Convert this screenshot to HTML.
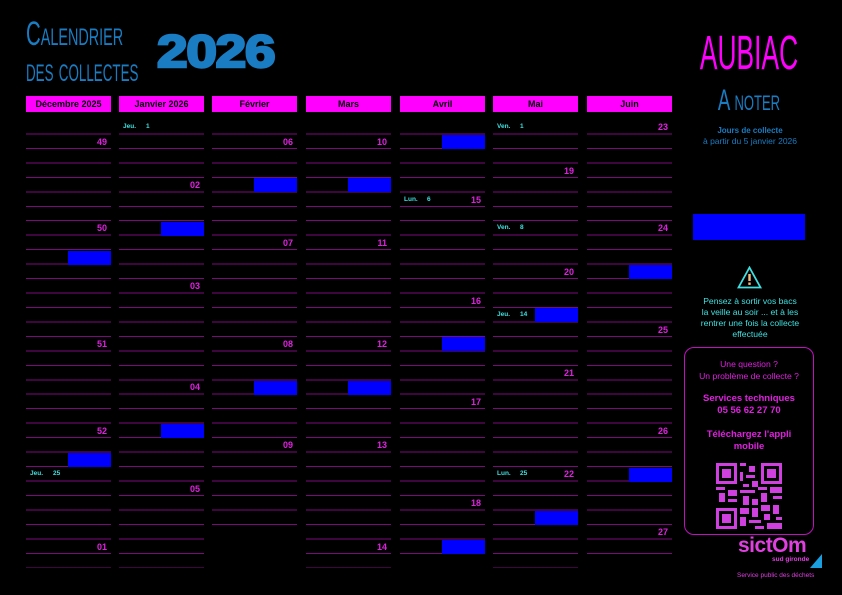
<!DOCTYPE html>
<html><head><meta charset="utf-8"><style>
*{margin:0;padding:0;box-sizing:border-box}
body{width:842px;height:595px;background:#000;position:relative;overflow:hidden;font-family:"Liberation Sans","DejaVu Sans",sans-serif}
.a{position:absolute}
.hd{position:absolute;top:96px;height:16px;width:85px;background:#ff00ff;color:#000;font-weight:bold;font-size:9px;text-align:center;line-height:16px}
.col{position:absolute;top:120px;width:85px;background:repeating-linear-gradient(#000 0,#000 13.46px,#7d0a7d 13.46px,#7d0a7d 14.46px)}
.wk{position:absolute;width:85px;text-align:right;padding-right:4px;color:#e020e0;font-weight:bold;font-size:9px;line-height:10px;top:calc(122.2px + 14.46px*(var(--r) - 1))}
.b{position:absolute;width:43px;height:14px;background:#0000ff;top:calc(120.5px + 14.46px*(var(--r) - 1))}
.h{position:absolute;color:#40e0e0;font-size:6.5px;font-weight:bold;line-height:10px;top:calc(122.2px + 14.46px*(var(--r) - 1))}
.h span{position:absolute;left:23px}
.ctr{position:absolute;left:549px;width:400px;text-align:center}
</style></head><body>
<div class="a" style="left:26px;top:16px;color:#1a7cc2;font-family:'Liberation Sans Narrow','Liberation Sans',sans-serif;font-size:34px;line-height:36px;font-variant:small-caps;transform:scaleX(0.6);transform-origin:left top;width:300px;white-space:nowrap">Calendrier<br><span style="display:inline-block;transform:scaleX(0.93);transform-origin:left top">des collectes</span></div>
<div class="a" style="left:157px;top:27px;color:#1a7cc2;font-weight:900;font-size:45px;line-height:50px;-webkit-text-stroke:2.5px #1a7cc2;transform:scaleX(1.22);transform-origin:left top;letter-spacing:-1px">2026</div>

<div class="hd" style="left:26px">Décembre 2025</div>
<div class="hd" style="left:119px">Janvier 2026</div>
<div class="hd" style="left:212px">Février</div>
<div class="hd" style="left:306px">Mars</div>
<div class="hd" style="left:400px">Avril</div>
<div class="hd" style="left:493px">Mai</div>
<div class="hd" style="left:587px">Juin</div>

<div class="col" style="left:26px;height:448.3px"></div>
<div class="col" style="left:119px;height:448.3px"></div>
<div class="col" style="left:212px;height:404.9px"></div>
<div class="col" style="left:306px;height:448.3px"></div>
<div class="col" style="left:400px;height:433.8px"></div>
<div class="col" style="left:493px;height:448.3px"></div>
<div class="col" style="left:587px;height:433.8px"></div>

<div class="wk" style="left:26px;--r:2">49</div>
<div class="wk" style="left:26px;--r:8">50</div>
<div class="wk" style="left:26px;--r:16">51</div>
<div class="wk" style="left:26px;--r:22">52</div>
<div class="wk" style="left:26px;--r:30">01</div>
<div class="wk" style="left:119px;--r:5">02</div>
<div class="wk" style="left:119px;--r:12">03</div>
<div class="wk" style="left:119px;--r:19">04</div>
<div class="wk" style="left:119px;--r:26">05</div>
<div class="wk" style="left:212px;--r:2">06</div>
<div class="wk" style="left:212px;--r:9">07</div>
<div class="wk" style="left:212px;--r:16">08</div>
<div class="wk" style="left:212px;--r:23">09</div>
<div class="wk" style="left:306px;--r:2">10</div>
<div class="wk" style="left:306px;--r:9">11</div>
<div class="wk" style="left:306px;--r:16">12</div>
<div class="wk" style="left:306px;--r:23">13</div>
<div class="wk" style="left:306px;--r:30">14</div>
<div class="wk" style="left:400px;--r:6">15</div>
<div class="wk" style="left:400px;--r:13">16</div>
<div class="wk" style="left:400px;--r:20">17</div>
<div class="wk" style="left:400px;--r:27">18</div>
<div class="wk" style="left:493px;--r:4">19</div>
<div class="wk" style="left:493px;--r:11">20</div>
<div class="wk" style="left:493px;--r:18">21</div>
<div class="wk" style="left:493px;--r:25">22</div>
<div class="wk" style="left:587px;--r:1">23</div>
<div class="wk" style="left:587px;--r:8">24</div>
<div class="wk" style="left:587px;--r:15">25</div>
<div class="wk" style="left:587px;--r:22">26</div>
<div class="wk" style="left:587px;--r:29">27</div>

<div class="b" style="left:68px;--r:10"></div>
<div class="b" style="left:68px;--r:24"></div>
<div class="b" style="left:161px;--r:8"></div>
<div class="b" style="left:161px;--r:22"></div>
<div class="b" style="left:254px;--r:5"></div>
<div class="b" style="left:254px;--r:19"></div>
<div class="b" style="left:348px;--r:5"></div>
<div class="b" style="left:348px;--r:19"></div>
<div class="b" style="left:442px;--r:2"></div>
<div class="b" style="left:442px;--r:16"></div>
<div class="b" style="left:442px;--r:30"></div>
<div class="b" style="left:535px;--r:14"></div>
<div class="b" style="left:535px;--r:28"></div>
<div class="b" style="left:629px;--r:11"></div>
<div class="b" style="left:629px;--r:25"></div>

<div class="h" style="left:123px;--r:1">Jeu.<span>1</span></div>
<div class="h" style="left:497px;--r:1">Ven.<span>1</span></div>
<div class="h" style="left:404px;--r:6">Lun.<span>6</span></div>
<div class="h" style="left:497px;--r:8">Ven.<span>8</span></div>
<div class="h" style="left:497px;--r:14">Jeu.<span>14</span></div>
<div class="h" style="left:30px;--r:25">Jeu.<span>25</span></div>
<div class="h" style="left:497px;--r:25">Lun.<span>25</span></div>

<div class="ctr" style="top:28px;color:#ff00ff;font-family:'Liberation Sans Narrow','Liberation Sans',sans-serif;font-size:48px;line-height:52px;transform:scaleX(0.55)">AUBIAC</div>
<div class="ctr" style="top:84px;color:#1a7cc2;font-family:'Liberation Sans Narrow','Liberation Sans',sans-serif;font-size:30px;line-height:34px;font-variant:small-caps;transform:scaleX(0.62)">A noter</div>
<div class="a" style="left:680px;top:126px;width:140px;text-align:center;color:#1a7cc2;font-size:8px;line-height:10px"><b>Jours de collecte</b><br><span style="font-size:8.5px">à partir du 5 janvier 2026</span></div>
<div class="a" style="left:693px;top:214px;width:112px;height:26px;background:#0000ff"></div>
<svg class="a" style="left:737px;top:266px" width="25" height="23"><polygon points="12.5,1.5 23.5,21.5 1.5,21.5" fill="none" stroke="#40e0e0" stroke-width="1.8"/><rect x="11.3" y="8" width="2.4" height="7" fill="#f0c080"/><rect x="11.3" y="16.5" width="2.4" height="2.4" fill="#f0c080"/></svg>
<div class="a" style="left:680px;top:296px;width:140px;text-align:center;color:#40e0e0;font-size:8.6px;line-height:11px">Pensez à sortir vos bacs<br>la veille au soir ... et à les<br>rentrer une fois la collecte<br>effectuée</div>
<div class="a" style="left:684px;top:347px;width:130px;height:188px;border:1.5px solid #c010c0;border-radius:10px"></div>
<div class="a" style="left:684px;top:358px;width:130px;text-align:center;color:#e020e0;font-size:8.6px;line-height:12px">Une question ?<br>Un problème de collecte ?</div>
<div class="a" style="left:684px;top:393px;width:130px;text-align:center;color:#e020e0;font-size:9.5px;font-weight:bold;line-height:12px">Services techniques<br>05 56 62 27 70</div>
<div class="a" style="left:684px;top:429px;width:130px;text-align:center;color:#e020e0;font-size:9.5px;font-weight:bold;line-height:12px">Téléchargez l'appli<br>mobile</div>
<svg class="a" style="left:716px;top:463px" width="66" height="66" viewBox="0 0 22 22">
<rect width="22" height="22" fill="#000"/>
<g fill="#d040e0">
<path d="M0 0h7v7h-7zM15 0h7v7h-7zM0 15h7v7h-7z"/>
</g>
<g fill="#000"><path d="M1 1h5v5h-5zM16 1h5v5h-5zM1 16h5v5h-5z"/></g>
<g fill="#d040e0"><path d="M2 2h3v3h-3zM17 2h3v3h-3zM2 17h3v3h-3z"/>
<path d="M8 0h2v1h-2zM11 1h2v2h-2zM8 3h1v3h-1zM10 4h3v1h-3zM12 6h2v2h-2zM9 7h2v1h-2zM0 8h3v1h-3zM4 9h3v2h-3zM1 10h2v3h-2zM8 9h5v1h-5zM14 8h3v1h-3zM18 8h4v2h-4zM15 10h2v3h-2zM19 11h3v1h-3zM9 11h2v3h-2zM12 12h2v2h-2zM4 12h3v1h-3zM8 15h3v2h-3zM12 15h2v3h-2zM15 14h3v2h-3zM19 14h2v3h-2zM16 17h2v2h-2zM8 18h2v3h-2zM11 19h4v1h-4zM17 20h5v2h-5zM13 21h3v1h-3zM20 18h2v1h-2z"/></g>
</svg>
<div class="a" style="left:738px;top:534px;color:#e040e0;font-size:21px;font-weight:bold;letter-spacing:-0.5px;line-height:24px">sictOm</div>
<div class="a" style="left:772px;top:556px;color:#e040e0;font-size:6.5px;font-weight:bold;line-height:8px">sud gironde</div>
<svg class="a" style="left:810px;top:554px" width="12" height="14"><polygon points="12,0 12,14 0,14" fill="#1aa0e0"/></svg>
<div class="a" style="left:737px;top:571px;color:#e040e0;font-size:6.5px;line-height:9px">Service public des déchets</div>
</body></html>
